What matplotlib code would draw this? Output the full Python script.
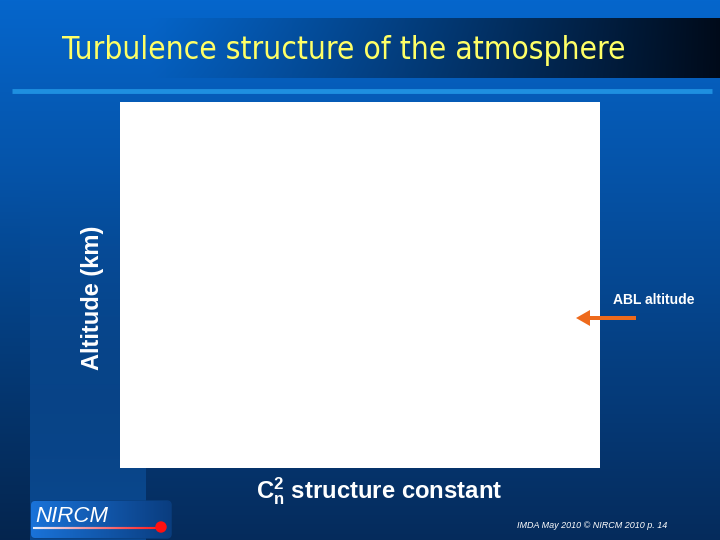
import numpy as np
import matplotlib
matplotlib.use("Agg")
import matplotlib.pyplot as plt
from matplotlib.patches import FancyBboxPatch, FancyArrow, Circle

plt.rcParams["font.family"] = ["Liberation Sans", "DejaVu Sans"]
plt.rcParams["mathtext.fontset"] = "custom"
plt.rcParams["mathtext.bf"] = "Liberation Sans:bold"
plt.rcParams["mathtext.rm"] = "Liberation Sans:bold"

# slide texts
title = "Turbulence structure of the atmosphere"
ylabel = "Altitude (km)"
xlabel = r"$\mathbf{C_n^2}$ structure constant"
marker_label = "ABL altitude"
footer = "IMDA May 2010 \u00a9 NIRCM 2010 p. 14"
logo = "NIRCM"

W, H = 720, 540


def background():
    """Fond bleu en dégradé avec le bandeau du titre."""
    top = np.array([0.02, 0.40, 0.80])
    bot = np.array([0.02, 0.17, 0.36])
    t = np.linspace(0, 1, H)[:, None, None]
    img = top * (1 - t) + bot * t
    img = np.repeat(img, W, axis=1)
    xs = np.arange(W)
    ys = np.arange(H)
    k = np.clip((ys - 180) / 360, 0, 1)[:, None, None]
    # bande plus claire a gauche
    panel = (xs >= 30) & (xs <= 145)
    lighter = np.array([0.04, 0.29, 0.57])
    img[:, panel] = img[:, panel] * (1 - k) + lighter * k
    # bord gauche plus sombre
    edge = xs < 30
    img[:, edge] = img[:, edge] * (1 - 0.15 * k)
    # bandeau du titre
    a = np.clip((xs - 150) / 570, 0, 1) ** 1.1
    dark = np.array([0.0, 0.04, 0.10])
    img[18:78] = img[18:78] * (1 - a[None, :, None]) + dark * a[None, :, None]
    return np.clip(img, 0, 1)


fig = plt.figure(figsize=(7.2, 5.4), dpi=100)
bg = fig.add_axes([0, 0, 1, 1])
bg.imshow(background(), extent=(0, W, H, 0), aspect="auto")
bg.set_xlim(0, W)
bg.set_ylim(H, 0)
bg.axis("off")

bg.text(62, 50, title, color="#ffff66", fontsize=22.7, family=["DejaVu Sans"],
        fontstretch="condensed", va="center", ha="left")
bg.plot([12, 712], [91, 91], color="#1e8fe0", lw=3.5, solid_capstyle="butt")

# zone du graphe (vide)
ax = fig.add_axes([120 / W, (H - 468) / H, 480 / W, 366 / H])
ax.set_facecolor("white")
ax.set_xticks([])
ax.set_yticks([])
for s in ax.spines.values():
    s.set_visible(False)
ax.set_ylabel(ylabel, color="white", fontsize=17, fontweight="bold")
ax.yaxis.set_label_coords(-0.033, 0.465)
ax.set_xlabel(xlabel, color="white", fontsize=17.2, fontweight="bold")
ax.xaxis.set_label_coords(0.54, -0.02)

# calque du dessus pour la fleche et le logo
fg = fig.add_axes([0, 0, 1, 1], zorder=5)
fg.set_xlim(0, W)
fg.set_ylim(H, 0)
fg.axis("off")

fg.text(613, 300, marker_label, color="white", fontsize=10, fontweight="bold",
        va="center", ha="left")
fg.add_patch(FancyArrow(636, 318, -46, 0, width=4, head_width=16,
                        head_length=14, color="#ee6a1c", lw=0))

# logo
box = FancyBboxPatch((31, 501), 140, 37, boxstyle="round,pad=0,rounding_size=4",
                     fc="none", ec="#0a3f80", lw=1)
fg.add_patch(box)
lg = np.linspace(0, 1, 100)[None, :, None]
grad = np.array([0.10, 0.45, 0.85]) * (1 - lg) + np.array([0.04, 0.24, 0.50]) * lg
im = fg.imshow(grad, extent=(31, 171, 538, 501), aspect="auto", zorder=1)
im.set_clip_path(box)
fg.set_xlim(0, W)
fg.set_ylim(H, 0)
fg.text(35, 516, logo, color="white", fontsize=16, style="italic",
        va="center", ha="left", zorder=3)
cmap = matplotlib.colors.LinearSegmentedColormap.from_list("lg", ["#e8f0ff", "#ff2020"])
xs = np.linspace(34, 158, 60)
for i in range(len(xs) - 1):
    fg.plot(xs[i:i + 2], [528, 528], color=cmap(i / (len(xs) - 2)), lw=1.5, zorder=3)
fg.add_patch(Circle((161, 527), 5, color="#ff1010", zorder=4))

fg.text(517, 526, footer, color="white", fontsize=6.5, style="italic",
        va="center", ha="left")

fig.savefig("out.png", dpi=100)
